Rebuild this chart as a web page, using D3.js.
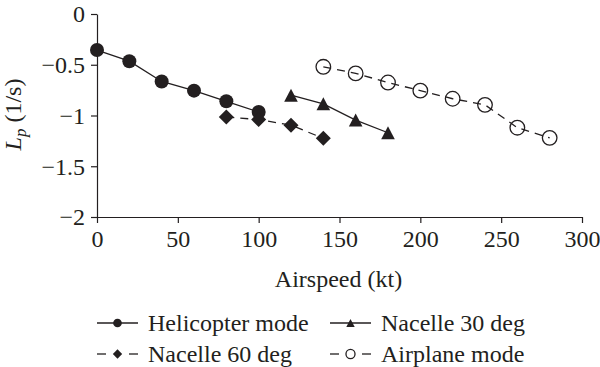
<!DOCTYPE html>
<html>
<head>
<script src="https://cdn.jsdelivr.net/npm/d3@7"></script>
</head>
<body style="margin:0">
<script>
// data
const heliSpeed = [0, 20, 40, 60, 80, 100];
const heliLp = [-0.355, -0.465, -0.665, -0.755, -0.86, -0.965];

const n30Speed = [120, 140, 160, 180];
const n30Lp = [-0.80, -0.885, -1.045, -1.17];

const n60Speed = [80, 100, 120, 140];
const n60Lp = [-1.015, -1.04, -1.095, -1.225];

const planeSpeed = [140, 160, 180, 200, 220, 240, 260, 280];
const planeLp = [-0.52, -0.585, -0.675, -0.755, -0.835, -0.895, -1.12, -1.22];

const xTicks = [0, 50, 100, 150, 200, 250, 300];
const yTicks = [0, -0.5, -1, -1.5, -2];

const series = [
  { name: "Helicopter mode", xs: heliSpeed, ys: heliLp, marker: "circle", dashed: false },
  { name: "Nacelle 30 deg", xs: n30Speed, ys: n30Lp, marker: "triangle", dashed: false },
  { name: "Nacelle 60 deg", xs: n60Speed, ys: n60Lp, marker: "diamond", dashed: true },
  { name: "Airplane mode", xs: planeSpeed, ys: planeLp, marker: "open", dashed: true }
];

const W = 600, H = 367;
const margin = { left: 97, right: 18, top: 14, bottom: 150 };
const ink = "#231f20";
const fontSize = 24;
const font = '"Times New Roman"';

const svg = d3.select("body").append("svg")
  .attr("width", W)
  .attr("height", H);

const x = d3.scaleLinear().domain([0, 300]).range([margin.left, W - margin.right]);
const y = d3.scaleLinear().domain([-2, 0]).range([H - margin.bottom, margin.top]);

// axes
const xAxis = d3.axisBottom(x).tickValues(xTicks).tickSize(6).tickSizeOuter(0).tickPadding(5);
const yAxis = d3.axisLeft(y).tickValues(yTicks).tickSize(6).tickSizeOuter(0).tickPadding(6)
  .tickFormat(d => d === 0 ? "0" : "\u2212" + Math.abs(d));

const xAxisG = svg.append("g")
  .attr("transform", `translate(0,${y(-2)})`)
  .call(xAxis);
const yAxisG = svg.append("g")
  .attr("transform", `translate(${x(0)},0)`)
  .call(yAxis);

[xAxisG, yAxisG].forEach(g => {
  g.attr("font-family", null).attr("font-size", null);
  g.select(".domain").attr("stroke", ink).attr("stroke-width", 1.2);
  g.selectAll(".tick line").attr("stroke", ink).attr("stroke-width", 1.2);
  g.selectAll(".tick text")
    .attr("font-size", fontSize)
    .style("font-family", font)
    .attr("fill", ink);
});
xAxisG.selectAll(".tick text").attr("dy", "0.8em");
yAxisG.selectAll(".tick text").attr("dy", "0.33em");

// axis titles
svg.append("text")
  .attr("x", (x(0) + x(300)) / 2 - 1)
  .attr("y", 287)
  .attr("text-anchor", "middle")
  .attr("font-size", fontSize)
  .style("font-family", font)
  .attr("fill", ink)
  .text("Airspeed (kt)");

// y title: italic L with subscript p, then (1/s)
const yTitle = svg.append("text")
  .attr("transform", `translate(21,${(y(0) + y(-2)) / 2 - 1})rotate(-90)`)
  .attr("text-anchor", "middle")
  .attr("font-size", fontSize)
  .style("font-family", font)
  .attr("fill", ink);
yTitle.append("tspan").attr("font-style", "italic").text("L");
yTitle.append("tspan").attr("font-style", "italic").attr("font-size", 17).attr("dy", 5).text("p");
yTitle.append("tspan").attr("dy", -5).text(" (1/s)");

// markers
function drawMarker(g, type, cx, cy, s) {
  if (type === "circle") {
    g.append("circle").attr("cx", cx).attr("cy", cy).attr("r", 7 * s)
      .attr("fill", ink).attr("stroke", "none");
  } else if (type === "open") {
    g.append("circle").attr("cx", cx).attr("cy", cy).attr("r", 7.3 * s)
      .attr("fill", "none").attr("stroke", ink).attr("stroke-width", 1.3);
  } else if (type === "diamond") {
    const r = 7.5 * s;
    g.append("path")
      .attr("d", `M${cx},${cy - r}L${cx + r},${cy}L${cx},${cy + r}L${cx - r},${cy}Z`)
      .attr("fill", ink);
  } else if (type === "triangle") {
    const hw = 6.8 * s, hh = 6.5 * s;
    g.append("path")
      .attr("d", `M${cx},${cy - hh}L${cx + hw},${cy + hh}L${cx - hw},${cy + hh}Z`)
      .attr("fill", ink);
  }
}

const line = d3.line().x(d => x(d[0])).y(d => y(d[1]));

series.forEach(s => {
  const pts = s.xs.map((v, i) => [v, s.ys[i]]);
  const g = svg.append("g");
  g.append("path")
    .datum(pts)
    .attr("d", line)
    .attr("fill", "none")
    .attr("stroke", ink)
    .attr("stroke-width", 1.3)
    .attr("stroke-dasharray", s.dashed ? "8,6" : null);
  pts.forEach(p => drawMarker(g, s.marker, x(p[0]), y(p[1]), 1));
});

// legend
const legendPos = [
  { lx: 97, ly: 323 },
  { lx: 330, ly: 323 },
  { lx: 97, ly: 354 },
  { lx: 330, ly: 354 }
];

series.forEach((s, i) => {
  const p = legendPos[i];
  const g = svg.append("g").attr("transform", `translate(${p.lx},${p.ly})`);
  if (s.dashed) {
    g.append("line").attr("x1", 0).attr("x2", 9).attr("y1", 0).attr("y2", 0)
      .attr("stroke", ink).attr("stroke-width", 1.3);
    g.append("line").attr("x1", 32).attr("x2", 41).attr("y1", 0).attr("y2", 0)
      .attr("stroke", ink).attr("stroke-width", 1.3);
  } else {
    g.append("line").attr("x1", 0).attr("x2", 41).attr("y1", 0).attr("y2", 0)
      .attr("stroke", ink).attr("stroke-width", 1.3);
  }
  drawMarker(g, s.marker, 20.5, 0, 0.62);
  g.append("text")
    .attr("x", 51)
    .attr("y", 8)
    .attr("font-size", fontSize)
    .style("font-family", font)
    .attr("fill", ink)
    .text(s.name);
});
</script>
</body>
</html>
